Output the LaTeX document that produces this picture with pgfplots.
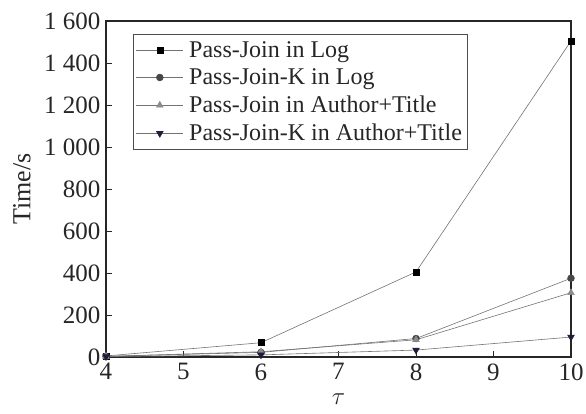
\documentclass[border=0pt]{standalone}
\usepackage{fontspec}
\setmainfont{Liberation Serif}
\usepackage{pgfplots}
\pgfplotsset{compat=1.18}
\begin{document}
\begin{tikzpicture}
\begin{axis}[
  scale only axis, width=465pt, height=336pt,
  xmin=4, xmax=10, ymin=0, ymax=1600,
  xtick={4,5,6,7,8,9,10}, ytick={0,200,...,1600},
  tick align=inside, xtick pos=bottom, ytick pos=left,
  major tick length=6pt,
  axis line style={line width=1.1pt, draw=black!85},
  tick style={line width=0.9pt, black!85},
  /pgf/number format/assume math mode=true,
  /pgf/number format/1000 sep={\ },
  tick label style={font=\fontsize{25}{27}\selectfont, text=black!85},
  xticklabel style={yshift=-3pt},
  yticklabel style={xshift=-2pt},
  xlabel={\fontsize{25}{27}\selectfont $\tau$},
  ylabel={\fontsize{26}{28}\selectfont Time/s},
  xlabel style={at={(axis description cs:0.5,0)}, anchor=north, inner sep=0pt, yshift=-37pt, text=black!85},
  ylabel style={at={(axis description cs:0,0.5)}, anchor=center, yshift=84pt, text=black!85},
  legend style={at={(axis description cs:0,1)}, anchor=north west, xshift=27pt, yshift=-13pt,
    font=\fontsize{24}{29}\selectfont, text=black!85,
    draw=black!70, line width=0.8pt, row sep=5pt, column sep=3pt, inner xsep=2.5pt, inner ysep=4.5pt,
    nodes={inner sep=2.5pt}},
  legend cell align=left,
  legend image code/.code={\draw[mark repeat=2,mark phase=2] plot coordinates {(0cm,0cm) (0.83cm,0cm) (1.66cm,0cm)};},
  every axis plot/.append style={line width=0.6pt, draw=black!55, mark size=3.4pt},
]
\addplot[mark=square*, mark size=3pt, mark options={fill=black, draw=black}] coordinates {(4,5) (6,68) (8,405) (10,1505)};
\addlegendentry{Pass-Join in Log}
\addplot[mark=*, mark options={fill=black!72, draw=black!72}] coordinates {(4,3) (6,22) (8,88) (10,375)};
\addlegendentry{Pass-Join-K in Log}
\addplot[mark=triangle*, mark size=3.8pt, mark options={fill=black!45, draw=black!45}] coordinates {(4,3) (6,25) (8,82) (10,306)};
\addlegendentry{Pass-Join in Author+Title}
\addplot[mark=triangle*, mark size=3.8pt, mark options={rotate=180, fill={rgb,255:red,30;green,30;blue,60}, draw={rgb,255:red,30;green,30;blue,60}}] coordinates {(4,2) (6,10) (8,33) (10,95)};
\addlegendentry{Pass-Join-K in Author+Title}
\end{axis}
\pgfresetboundingbox
\path ([shift={(-106pt,-57pt)}]current axis.south west) rectangle ([shift={(15pt,21pt)}]current axis.north east);
\end{tikzpicture}
\end{document}
